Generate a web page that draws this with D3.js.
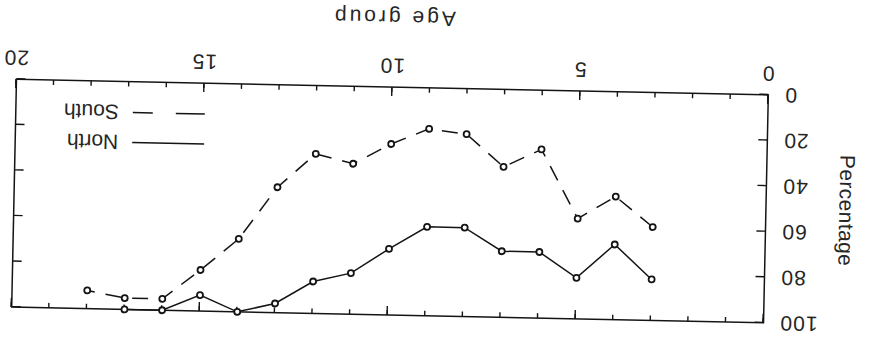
<!DOCTYPE html>
<html>
<head>
<meta charset="utf-8">
<script src="https://cdn.jsdelivr.net/npm/d3@7"></script>
<style>
  body { margin: 0; background: #fff; }
  svg text { font-family: "Liberation Sans", Arial, sans-serif; fill: #262626; }
</style>
</head>
<body>
<div id="chart"></div>
<script>
const width = 869;
const height = 341;

const southAges = [3, 4, 5, 6, 7, 8, 9, 10, 11, 12, 13, 14, 15, 16, 17, 18];
const southValues = [59, 46, 56, 26, 34, 20, 18, 25, 34, 30, 45, 68, 82, 95, 95, 92];
const northAges = [3, 4, 5, 6, 7, 8, 9, 10, 11, 12, 13, 14, 15, 16, 17];
const northValues = [82, 67, 82, 71, 71, 61, 61, 71, 82, 86, 96, 100, 93, 100, 100];

const xTickValues = [0, 5, 10, 15, 20];
const yTickValues = [0, 20, 40, 60, 80, 100];
const legendLabels = ["North", "South"];

// plot box in un-rotated coordinates
const plot = { left: 14, top: 87, width: 752, height: 228 };
const cx = 390, cy = 201;
const angle = 181.2; // figure was scanned upside down and slightly skewed

const xScale = d3.scaleLinear().domain([0, 20])
    .range([plot.left, plot.left + plot.width]);
const yScale = d3.scaleLinear().domain([0, 100])
    .range([plot.top + plot.height, plot.top]);

const svg = d3.select("#chart").append("svg")
    .attr("width", width)
    .attr("height", height);

const g = svg.append("g")
    .attr("transform", `rotate(${angle}, ${cx}, ${cy})`);

const ink = "#141414";

// axes: minor + major ticks, all pointing inward, mirrored on every side
function styleAxis(sel) {
    sel.attr("font-family", null).attr("font-size", null);
    sel.select(".domain").remove();
    sel.selectAll(".tick line").attr("stroke", ink).attr("stroke-width", 1.4);
}

const bottom = plot.top + plot.height;
const right = plot.left + plot.width;

g.append("g").attr("transform", `translate(0,${bottom})`)
    .call(d3.axisBottom(xScale).tickValues(d3.range(0, 21)).tickSize(-5).tickFormat(""))
    .call(styleAxis);
g.append("g").attr("transform", `translate(0,${plot.top})`)
    .call(d3.axisTop(xScale).tickValues(d3.range(0, 21)).tickSize(-5).tickFormat(""))
    .call(styleAxis);

const xAxis = g.append("g").attr("transform", `translate(0,${bottom})`)
    .call(d3.axisBottom(xScale).tickValues(xTickValues).tickSize(-9))
    .call(styleAxis);
xAxis.selectAll("text")
    .attr("y", 21).attr("dy", "0.36em")
    .style("font-size", "21px").style("letter-spacing", "1px");

g.append("g").attr("transform", `translate(0,${plot.top})`)
    .call(d3.axisTop(xScale).tickValues(xTickValues).tickSize(-9).tickFormat(""))
    .call(styleAxis);

const yAxis = g.append("g").attr("transform", `translate(${plot.left},0)`)
    .call(d3.axisLeft(yScale).tickValues(yTickValues).tickSize(-9).tickPadding(16))
    .call(styleAxis);
yAxis.selectAll("text")
    .style("font-size", "21px").style("letter-spacing", "1px");

g.append("g").attr("transform", `translate(${right},0)`)
    .call(d3.axisRight(yScale).tickValues(yTickValues).tickSize(-9).tickFormat(""))
    .call(styleAxis);

// frame
g.append("rect")
    .attr("x", plot.left).attr("y", plot.top)
    .attr("width", plot.width).attr("height", plot.height)
    .attr("fill", "none").attr("stroke", ink).attr("stroke-width", 1.5);

// axis titles
g.append("text")
    .attr("x", plot.left + plot.width / 2)
    .attr("y", bottom + 69)
    .attr("dy", "0.36em")
    .attr("text-anchor", "middle")
    .style("font-size", "21px").style("letter-spacing", "3px")
    .text("Age group");

g.append("text")
    .attr("transform", `translate(${plot.left - 81},${plot.top + plot.height / 2}) rotate(-90)`)
    .attr("dy", "0.36em")
    .attr("text-anchor", "middle")
    .style("font-size", "21px").style("letter-spacing", "0.4px")
    .text("Percentage");

// series
const south = southAges.map((a, i) => ({ age: a, value: southValues[i] }));
const north = northAges.map((a, i) => ({ age: a, value: northValues[i] }));

const line = d3.line()
    .x(d => xScale(d.age))
    .y(d => yScale(d.value));

g.append("path").datum(south)
    .attr("d", line)
    .attr("fill", "none").attr("stroke", ink).attr("stroke-width", 1.5)
    .attr("stroke-dasharray", "16,11");

g.append("path").datum(north)
    .attr("d", line)
    .attr("fill", "none").attr("stroke", ink).attr("stroke-width", 1.5);

[south, north].forEach(series => {
    g.append("g").selectAll("circle").data(series).enter()
        .append("circle")
        .attr("cx", d => xScale(d.age))
        .attr("cy", d => yScale(d.value))
        .attr("r", 3)
        .attr("fill", "#fff")
        .attr("stroke", ink)
        .attr("stroke-width", 1.8);
});

// legend (bottom right in un-rotated frame)
const legend = g.append("g");
const legendY = [254, 284];
legendLabels.forEach((name, i) => {
    legend.append("line")
        .attr("x1", 577).attr("x2", 649)
        .attr("y1", legendY[i]).attr("y2", legendY[i])
        .attr("stroke", ink).attr("stroke-width", 1.5)
        .attr("stroke-dasharray", name === "South" ? "29,23" : null);
    legend.append("text")
        .attr("x", 663).attr("y", legendY[i]).attr("dy", "0.36em")
        .style("font-size", "21px")
        .text(name);
});
</script>
</body>
</html>
